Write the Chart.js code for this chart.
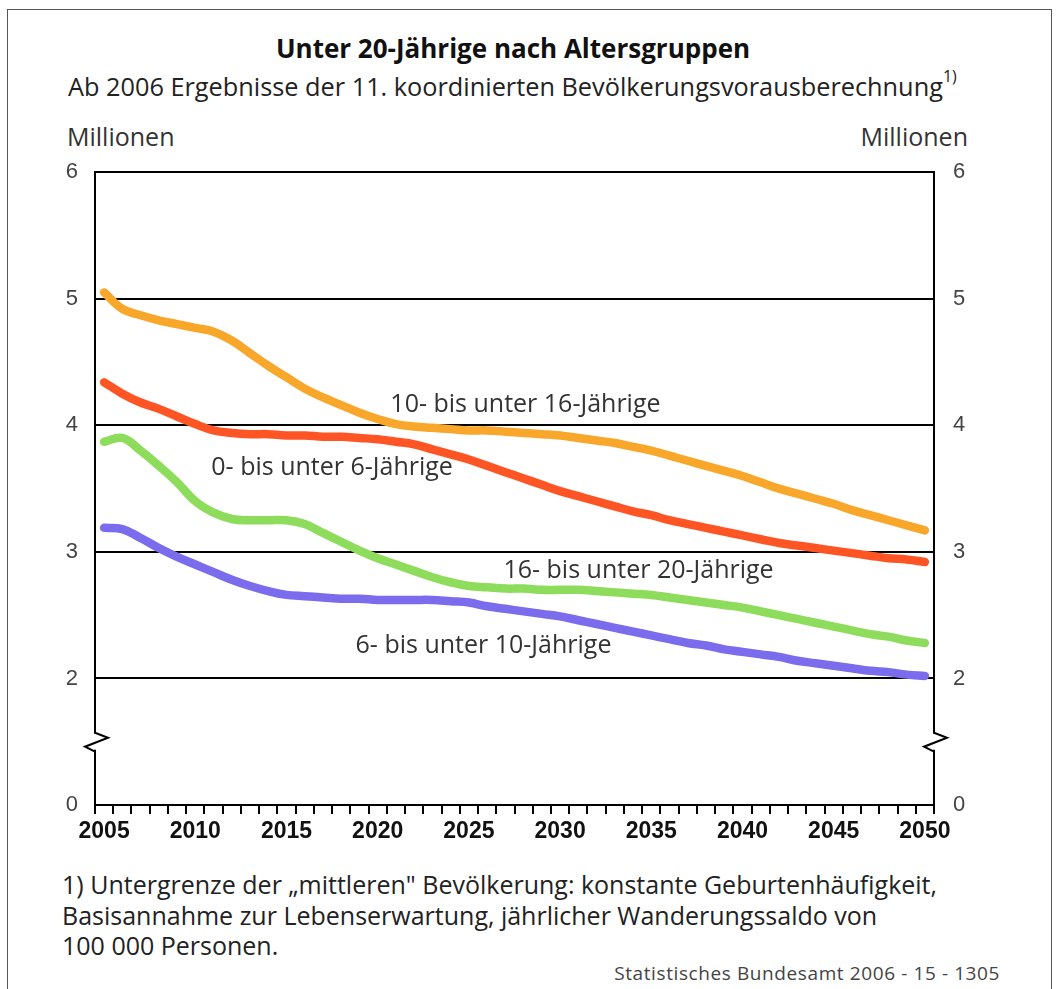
<!DOCTYPE html>
<html lang="de">
<head>
<meta charset="UTF-8">
<title>Unter 20-Jährige nach Altersgruppen</title>
<style>
  body { margin: 0; background: #fff; font-family: 'Open Sans', sans-serif; color: #222; }
  .frame { position: absolute; left: 7px; top: 9px; width: 1043px; height: 990px; border: 1px solid #555; border-bottom: none; }
  .txt { position: absolute; white-space: nowrap; line-height: 1; }
  #title { left: 0; width: 1026px; text-align: center; top: 35px; font-size: 26px; font-weight: bold; color: #111; }
  #subtitle { left: 68px; top: 73px; font-size: 25.3px; color: #222; }
  #subtitle sup { font-size: 16px; position: relative; top: -5px; }
  .unit { top: 124px; font-size: 25px; color: #333; }
  #unitLeft { left: 67px; }
  #unitRight { right: 89px; }
  #note { left: 62px; top: 869px; font-size: 25px; line-height: 30.5px; color: #222; }
  #source { right: 57px; top: 964px; font-size: 19px; letter-spacing: 0.6px; color: #444; }
  #chart { position: absolute; left: 0; top: 140px; }
</style>
</head>
<body>
<div class="frame"></div>
<div class="txt" id="title">Unter 20-Jährige nach Altersgruppen</div>
<div class="txt" id="subtitle">Ab 2006 Ergebnisse der 11. koordinierten Bevölkerungsvorausberechnung<sup>1)</sup></div>
<div class="txt unit" id="unitLeft">Millionen</div>
<div class="txt unit" id="unitRight">Millionen</div>
<div class="txt" id="note">1) Untergrenze der „mittleren" Bevölkerung: konstante Geburtenhäufigkeit,<br>Basisannahme zur Lebenserwartung, jährlicher Wanderungssaldo von<br>100 000 Personen.</div>
<div class="txt" id="source">Statistisches Bundesamt 2006 - 15 - 1305</div>

<canvas id="chart" width="1057" height="710"></canvas>

<script src="https://cdn.jsdelivr.net/npm/chart.js"></script>
<script>
// Jahre (Kategorien)
const years = [2005, 2006, 2007, 2008, 2009, 2010, 2011, 2012, 2013, 2014,
   2015, 2016, 2017, 2018, 2019, 2020, 2021, 2022, 2023, 2024,
   2025, 2026, 2027, 2028, 2029, 2030, 2031, 2032, 2033, 2034,
   2035, 2036, 2037, 2038, 2039, 2040, 2041, 2042, 2043, 2044,
   2045, 2046, 2047, 2048, 2049, 2050];

// Millionen
const age10to16 = [5.05, 4.92, 4.87, 4.83, 4.80, 4.77, 4.74, 4.67, 4.57, 4.47,
   4.38, 4.29, 4.22, 4.16, 4.10, 4.05, 4.01, 3.99, 3.98, 3.97,
   3.96, 3.96, 3.95, 3.94, 3.93, 3.92, 3.90, 3.88, 3.86, 3.83,
   3.80, 3.76, 3.72, 3.68, 3.64, 3.60, 3.55, 3.50, 3.46, 3.42,
   3.38, 3.33, 3.29, 3.25, 3.21, 3.17];
const age0to6 = [4.34, 4.25, 4.18, 4.13, 4.07, 4.01, 3.96, 3.94, 3.93, 3.93,
   3.92, 3.92, 3.91, 3.91, 3.90, 3.89, 3.87, 3.85, 3.81, 3.77,
   3.73, 3.68, 3.63, 3.58, 3.53, 3.48, 3.44, 3.40, 3.36, 3.32,
   3.29, 3.25, 3.22, 3.19, 3.16, 3.13, 3.10, 3.07, 3.05, 3.03,
   3.01, 2.99, 2.97, 2.95, 2.94, 2.92];
const age16to20 = [3.87, 3.90, 3.80, 3.68, 3.55, 3.40, 3.31, 3.26, 3.25, 3.25,
   3.25, 3.22, 3.15, 3.08, 3.01, 2.95, 2.90, 2.85, 2.80, 2.76,
   2.73, 2.72, 2.71, 2.71, 2.70, 2.70, 2.70, 2.69, 2.68, 2.67,
   2.66, 2.64, 2.62, 2.60, 2.58, 2.56, 2.53, 2.50, 2.47, 2.44,
   2.41, 2.38, 2.35, 2.33, 2.30, 2.28];
const age6to10 = [3.19, 3.18, 3.11, 3.03, 2.96, 2.90, 2.84, 2.78, 2.73, 2.69,
   2.66, 2.65, 2.64, 2.63, 2.63, 2.62, 2.62, 2.62, 2.62, 2.61,
   2.60, 2.57, 2.55, 2.53, 2.51, 2.49, 2.46, 2.43, 2.40, 2.37,
   2.34, 2.31, 2.28, 2.26, 2.23, 2.21, 2.19, 2.17, 2.14, 2.12,
   2.10, 2.08, 2.06, 2.05, 2.03, 2.02];

// Achse mit Bruch: Wert 1 steht für die Null
const yTickValues = [1, 2, 3, 4, 5, 6];
const yTickLabels = ['0', '2', '3', '4', '5', '6'];

const seriesNames = ['10- bis unter 16-Jährige', '0- bis unter 6-Jährige',
   '16- bis unter 20-Jährige', '6- bis unter 10-Jährige'];
const seriesColors = ['#f8a72a', '#ff5525', '#8ddc5c', '#7a6cec'];
const seriesData = [age10to16, age0to6, age16to20, age6to10];

// Beschriftungen im Diagramm: [Kategorie-Index, Wert]
const labelSpots = [[23.1, 4.16], [12.5, 3.66], [29.3, 2.85], [20.8, 2.26]];

const seriesLabelPlugin = {
   id: 'seriesLabels',
   afterDatasetsDraw(chart) {
      const ctx = chart.ctx;
      const x = chart.scales.x, y = chart.scales.y;
      ctx.save();
      ctx.font = '25px "Open Sans"';
      ctx.fillStyle = '#333';
      ctx.textAlign = 'center';
      ctx.textBaseline = 'middle';
      seriesNames.forEach((name, i) => {
         ctx.fillText(name, x.getPixelForValue(labelSpots[i][0]), y.getPixelForValue(labelSpots[i][1]));
      });
      ctx.restore();
   }
};

// Jahresstriche unter der x-Achse, jeweils zwischen zwei Jahren
const yearTickPlugin = {
   id: 'yearTicks',
   afterDraw(chart) {
      const ctx = chart.ctx;
      const x = chart.scales.x;
      const bottom = chart.chartArea.bottom;
      ctx.save();
      ctx.strokeStyle = '#000';
      ctx.lineWidth = 2;
      ctx.beginPath();
      for (let i = 0; i <= years.length; i++) {
         const px = Math.round(x.getPixelForValue(i - 0.5));
         ctx.moveTo(px, bottom);
         ctx.lineTo(px, bottom + 9);
      }
      ctx.stroke();
      ctx.restore();
   }
};

// Zickzack für den Achsenbruch
const axisBreakPlugin = {
   id: 'axisBreak',
   afterDraw(chart) {
      const ctx = chart.ctx;
      const y = chart.scales.y.getPixelForValue(1.5);
      [chart.chartArea.left, chart.chartArea.right].forEach((x) => {
         ctx.save();
         ctx.fillStyle = '#fff';
         ctx.fillRect(x - 3, y - 8, 6, 16);
         ctx.beginPath();
         ctx.moveTo(x, y - 9);
         ctx.lineTo(x + 13, y - 4);
         ctx.lineTo(x - 10, y + 5);
         ctx.lineTo(x, y + 10);
         ctx.strokeStyle = '#000';
         ctx.lineWidth = 2;
         ctx.stroke();
         ctx.restore();
      });
   }
};

const yTicks = {
   padding: 17,
   color: '#444',
   font: { size: 22 },
   callback: (v) => {
      const i = yTickValues.indexOf(v);
      return i < 0 ? '' : yTickLabels[i];
   }
};

new Chart(document.getElementById('chart'), {
   type: 'line',
   data: {
      labels: years,
      datasets: seriesData.map((d, i) => ({
         label: seriesNames[i],
         data: d,
         borderColor: seriesColors[i],
         backgroundColor: seriesColors[i],
         borderWidth: 8.5,
         borderCapStyle: 'round',
         borderJoinStyle: 'round',
         pointRadius: 0,
         tension: 0.4,
         yAxisID: 'y'
      }))
   },
   plugins: [seriesLabelPlugin, yearTickPlugin, axisBreakPlugin],
   options: {
      responsive: false,
      animation: false,
      layout: { padding: { top: 11, left: 0, right: 0, bottom: 0 } },
      plugins: {
         legend: { display: false },
         tooltip: { enabled: false }
      },
      scales: {
         x: {
            type: 'category',
            offset: true,
            grid: { display: false },
            border: { display: true, color: '#000', width: 2 },
            ticks: {
               autoSkip: false,
               maxRotation: 0,
               padding: 5,
               color: '#111',
               font: { size: 23, weight: 'bold' },
               callback: function (v) {
                  const yr = years[v];
                  return yr % 5 === 0 ? String(yr) : '';
               }
            },
            afterFit: (s) => { s.height = 45; }
         },
         y: {
            position: 'left',
            min: 1,
            max: 6,
            afterBuildTicks: (s) => { s.ticks = yTickValues.map((v) => ({ value: v })); },
            grid: { color: '#000', lineWidth: 2, drawTicks: false },
            border: { color: '#000', width: 2 },
            ticks: yTicks,
            afterFit: (s) => { s.width = 95; }
         },
         y2: {
            position: 'right',
            min: 1,
            max: 6,
            afterBuildTicks: (s) => { s.ticks = yTickValues.map((v) => ({ value: v })); },
            grid: { drawOnChartArea: false, drawTicks: false },
            border: { color: '#000', width: 2 },
            ticks: Object.assign({}, yTicks, { padding: 19 }),
            afterFit: (s) => { s.width = 123; }
         }
      }
   }
});
</script>
</body>
</html>
